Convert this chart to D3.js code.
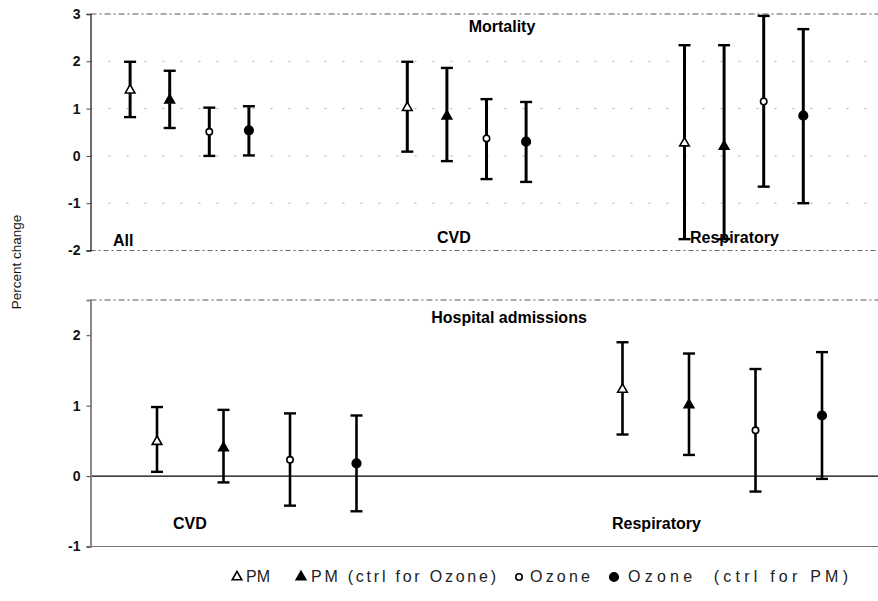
<!DOCTYPE html>
<html>
<head>
<meta charset="utf-8">
<script src="https://cdn.jsdelivr.net/npm/d3@7"></script>
<style>
  html, body { margin: 0; padding: 0; background: #fff; }
  svg { display: block; font-family: "Liberation Sans", Arial, sans-serif; }
</style>
</head>
<body>
<svg id="chart" width="878" height="601"></svg>
<script>
// ---- Data ----
const series = ["PM", "PM (ctrl for Ozone)", "Ozone", "Ozone  (ctrl for PM)"];
const markers = ["triangleOpen", "triangleFilled", "circleOpen", "circleFilled"];

const mortalityGroups = ["All", "CVD", "Respiratory"];
// [estimate, lower, upper] per series, per group
const mortalityAll = [[1.39, 0.82, 1.99], [1.18, 0.59, 1.80], [0.51, 0.00, 1.02], [0.54, 0.01, 1.05]];
const mortalityCVD = [[1.02, 0.09, 1.99], [0.84, -0.11, 1.86], [0.37, -0.49, 1.20], [0.30, -0.55, 1.14]];
const mortalityResp = [[0.27, -1.76, 2.34], [0.20, -1.76, 2.34], [1.15, -0.65, 2.96], [0.85, -1.00, 2.68]];

const hospitalGroups = ["CVD", "Respiratory"];
const hospitalCVD = [[0.49, 0.06, 0.98], [0.40, -0.09, 0.94], [0.23, -0.42, 0.89], [0.18, -0.50, 0.86]];
const hospitalResp = [[1.23, 0.59, 1.90], [1.01, 0.30, 1.74], [0.65, -0.22, 1.52], [0.86, -0.04, 1.76]];

const mortalityTicks = [-2, -1, 0, 1, 2, 3];
const hospitalTicks = [-1, 0, 1, 2];

const svg = d3.select("#chart");
const W = 878;
const slotsPerGroup = 7;

function drawMarker(g, type, x, y) {
  if (type.startsWith("triangle")) {
    const sym = d3.symbol().type(d3.symbolTriangle).size(40);
    g.append("path").attr("d", sym())
      .attr("transform", `translate(${x},${y})`)
      .attr("fill", type === "triangleOpen" ? "#fff" : "#000")
      .attr("stroke", "#000").attr("stroke-width", 1.6);
  } else {
    g.append("circle").attr("cx", x).attr("cy", y)
      .attr("r", type === "circleOpen" ? 3.2 : 4.3)
      .attr("fill", type === "circleOpen" ? "#fff" : "#000")
      .attr("stroke", "#000").attr("stroke-width", 1.6);
  }
}

function panel(opts) {
  const g = svg.append("g");
  const x = d3.scaleLinear().domain([0, opts.slots]).range([opts.left, W]);
  const y = d3.scaleLinear().domain(opts.yDomain).range([opts.bottom, opts.top]);

  if (opts.grid) {
    g.selectAll(".grid").data(opts.ticks.filter(t => t > opts.yDomain[0] && t < opts.yDomain[1]))
      .enter().append("line")
      .attr("x1", opts.left).attr("x2", W)
      .attr("y1", d => y(d)).attr("y2", d => y(d))
      .attr("stroke", "#aaa").attr("stroke-width", 1)
      .attr("stroke-dasharray", "2,16");
  }
  g.append("line").attr("x1", opts.left).attr("x2", W)
    .attr("y1", opts.top).attr("y2", opts.top)
    .attr("stroke", "#555").attr("stroke-width", 1).attr("stroke-dasharray", "6,3,2,3");
  g.append("line").attr("x1", opts.left).attr("x2", W)
    .attr("y1", opts.bottom).attr("y2", opts.bottom)
    .attr("stroke", opts.bottomDashed ? "#666" : "#777").attr("stroke-width", 1)
    .attr("stroke-dasharray", opts.bottomDashed ? "5,3,2,3" : null);

  if (opts.zeroLine) {
    g.append("line").attr("x1", opts.left).attr("x2", W)
      .attr("y1", y(0)).attr("y2", y(0))
      .attr("stroke", "#000").attr("stroke-width", 1.3);
  }

  const axis = d3.axisLeft(y).tickValues(opts.ticks).tickSize(4).tickPadding(6)
    .tickFormat(d => String(d));
  const ax = g.append("g").attr("transform", `translate(${opts.left},0)`).call(axis);
  ax.select(".domain").attr("stroke", opts.axisColor).attr("stroke-width", opts.axisWidth);
  ax.selectAll(".tick line").attr("stroke", "#444");
  ax.selectAll(".tick text").attr("font-size", 14).attr("font-weight", "bold")
    .attr("fill", "#111").attr("font-family", "Liberation Sans, Arial, sans-serif");

  opts.groups.forEach((grp, gi) => {
    opts.data[gi].forEach((d, si) => {
      const cx = x(gi * slotsPerGroup + si + 1);
      const [est, lo, hi] = d;
      g.append("line").attr("x1", cx).attr("x2", cx)
        .attr("y1", y(lo)).attr("y2", y(hi))
        .attr("stroke", "#000").attr("stroke-width", opts.barWidth);
      [lo, hi].forEach(v => {
        g.append("line").attr("x1", cx - 6).attr("x2", cx + 6)
          .attr("y1", y(v)).attr("y2", y(v))
          .attr("stroke", "#000").attr("stroke-width", 2.4);
      });
      drawMarker(g, markers[si], cx, y(est));
    });
  });

  opts.labels.forEach(l => {
    g.append("text").attr("x", l.x).attr("y", l.y).text(l.text)
      .attr("font-size", 16).attr("font-weight", "bold").attr("fill", "#000")
      .attr("text-anchor", l.anchor || "start");
  });
  return g;
}

panel({
  left: 90.5, top: 14, bottom: 250.5,
  slots: (W - 90.5) / 39.6,
  yDomain: [-2, 3], ticks: mortalityTicks,
  groups: mortalityGroups,
  data: [mortalityAll, mortalityCVD, mortalityResp],
  grid: true, zeroLine: false, bottomDashed: true,
  axisColor: "#222", axisWidth: 1.3, barWidth: 3,
  labels: [
    { text: "Mortality", x: 502, y: 32, anchor: "middle" },
    { text: mortalityGroups[0], x: 113, y: 246 },
    { text: mortalityGroups[1], x: 437, y: 243 },
    { text: mortalityGroups[2], x: 690, y: 243 }
  ]
});

panel({
  left: 90.5, top: 300, bottom: 546.5,
  slots: (W - 90.5) / 66.5,
  yDomain: [-1, 2.5], ticks: hospitalTicks,
  groups: hospitalGroups,
  data: [hospitalCVD, hospitalResp],
  grid: false, zeroLine: true, bottomDashed: false,
  axisColor: "#888", axisWidth: 2, barWidth: 2.6,
  labels: [
    { text: "Hospital admissions", x: 509, y: 323, anchor: "middle" },
    { text: hospitalGroups[0], x: 173, y: 529 },
    { text: hospitalGroups[1], x: 612, y: 529 }
  ]
});

svg.append("text")
  .attr("transform", "translate(21,262) rotate(-90)")
  .attr("text-anchor", "middle")
  .attr("font-size", 13.5).attr("fill", "#111")
  .text("Percent change");

// legend
const legendY = 582;
const legendItems = [
  { mx: 237, tx: 246, len: 24 },
  { mx: 301, tx: 311, len: 185 },
  { mx: 519, tx: 530, len: 60 },
  { mx: 614, tx: 628, len: 220 }
];
const lg = svg.append("g");
series.forEach((s, i) => {
  const it = legendItems[i];
  drawMarker(lg, markers[i], it.mx, legendY - 5);
  lg.append("text").attr("x", it.tx).attr("y", legendY)
    .attr("font-size", 16).attr("fill", "#222")
    .attr("textLength", it.len).attr("lengthAdjust", "spacing")
    .style("white-space", "pre")
    .text(s);
});
</script>
</body>
</html>
